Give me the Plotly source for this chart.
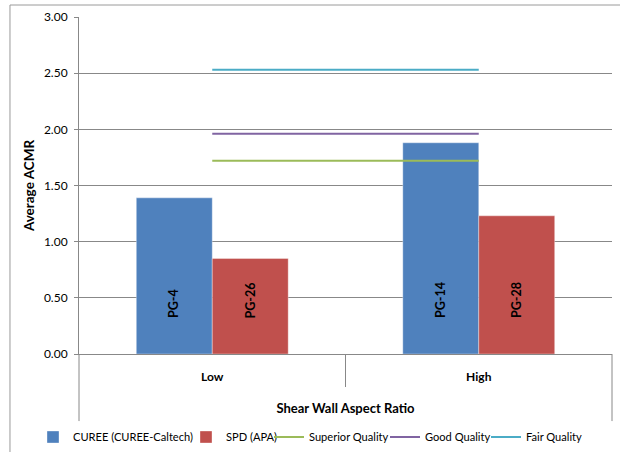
import plotly.graph_objects as go

# Shear wall test groups: average ACMR by aspect ratio
categories = ["Low", "High"]
curee_values = [1.39, 1.88]
spd_values = [0.85, 1.23]
curee_labels = ["PG-4", "PG-14"]
spd_labels = ["PG-26", "PG-28"]

superior_quality = [1.72, 1.72]
good_quality = [1.96, 1.96]
fair_quality = [2.53, 2.53]

y_ticks = [0, 0.5, 1.0, 1.5, 2.0, 2.5, 3.0]

FONT = "Lato"
GRID = "#888888"
BAR_GAP = 0.43
W, H = 620, 452

fig = go.Figure()

fig.add_trace(go.Bar(
    x=categories, y=curee_values, name="CUREE (CUREE-Caltech)", legend="legend",
    marker=dict(color="#4F81BD", line=dict(color="rgba(255,255,255,0.35)", width=1)),
))
fig.add_trace(go.Bar(
    x=categories, y=spd_values, name="SPD (APA)", legend="legend2",
    marker=dict(color="#C0504D", line=dict(color="rgba(255,255,255,0.35)", width=1)),
))
for name, vals, color, lg in [
    ("Superior Quality", superior_quality, "#9BBB59", "legend3"),
    ("Good Quality", good_quality, "#8064A2", "legend4"),
    ("Fair Quality", fair_quality, "#4BACC6", "legend5"),
]:
    fig.add_trace(go.Scatter(
        x=categories, y=vals, name=name, mode="lines", legend=lg,
        line=dict(color=color, width=2),
    ))

# Rotated group labels near the base of each bar
half = (1 - BAR_GAP) / 2
annotations = []
for j, labels in enumerate([curee_labels, spd_labels]):
    for i, lab in enumerate(labels):
        annotations.append(dict(
            x=i + (j - 0.5) * half, y=0.30, xref="x", yref="y",
            text=f"<b>{lab}</b>", textangle=-90, showarrow=False,
            xanchor="center", yanchor="bottom",
            font=dict(family=FONT, size=12.5, color="black"),
        ))

# Category-axis dividers and chart frame
shapes = [
    dict(type="line", xref="paper", yref="paper", x0=0, x1=0, y0=0, y1=-0.199,
         line=dict(color=GRID, width=1)),
    dict(type="line", xref="paper", yref="paper", x0=0.5, x1=0.5, y0=0, y1=-0.098,
         line=dict(color=GRID, width=1)),
    dict(type="line", xref="paper", yref="paper", x0=1, x1=1, y0=0, y1=-0.199,
         line=dict(color=GRID, width=1)),
    dict(type="rect", xref="paper", yref="paper", x0=-0.1295, x1=1.2, y0=-0.6, y1=1.0356,
         line=dict(color="#9a9a9a", width=1), layer="below"),
]

# One legend per series so each entry sits at its own place along the bottom row
legend_text_x = [73, 226, 309, 425, 526]
legend_common = dict(orientation="h", xref="container", yref="container",
                     xanchor="left", yanchor="middle", y=1 - 437 / H,
                     font=dict(family=FONT, size=11.1), itemwidth=30,
                     bgcolor="rgba(0,0,0,0)", borderwidth=0)
legends = {}
for k, tx in enumerate(legend_text_x):
    key = "legend" if k == 0 else f"legend{k + 1}"
    legends[key] = dict(legend_common, x=(tx - 40) / W)

fig.update_layout(
    width=W, height=H,
    margin=dict(l=79, r=8, t=17, b=98),
    paper_bgcolor="white", plot_bgcolor="white",
    barmode="group", bargap=BAR_GAP, bargroupgap=0,
    font=dict(family=FONT, size=12, color="black"),
    showlegend=True,
    annotations=annotations,
    shapes=shapes,
    xaxis=dict(
        showline=True, linecolor=GRID, linewidth=1, ticks="",
        tickfont=dict(family=FONT, size=12), tickprefix="<b>", ticksuffix="</b>",
        ticklabelstandoff=12,
        title=dict(text="<b>Shear Wall Aspect Ratio</b>", font=dict(family=FONT, size=13), standoff=20),
    ),
    yaxis=dict(
        range=[0, 3], tickvals=y_ticks, tickformat=".2f",
        showgrid=True, gridcolor=GRID, gridwidth=1,
        showline=True, linecolor=GRID, linewidth=1,
        ticks="outside", ticklen=4, tickcolor=GRID,
        zeroline=False, ticklabelstandoff=4,
        tickfont=dict(family=FONT, size=12),
        title=dict(text="<b>Average ACMR</b>", font=dict(family=FONT, size=13.5), standoff=6),
    ),
    **legends,
)

fig.write_html("out.html")
